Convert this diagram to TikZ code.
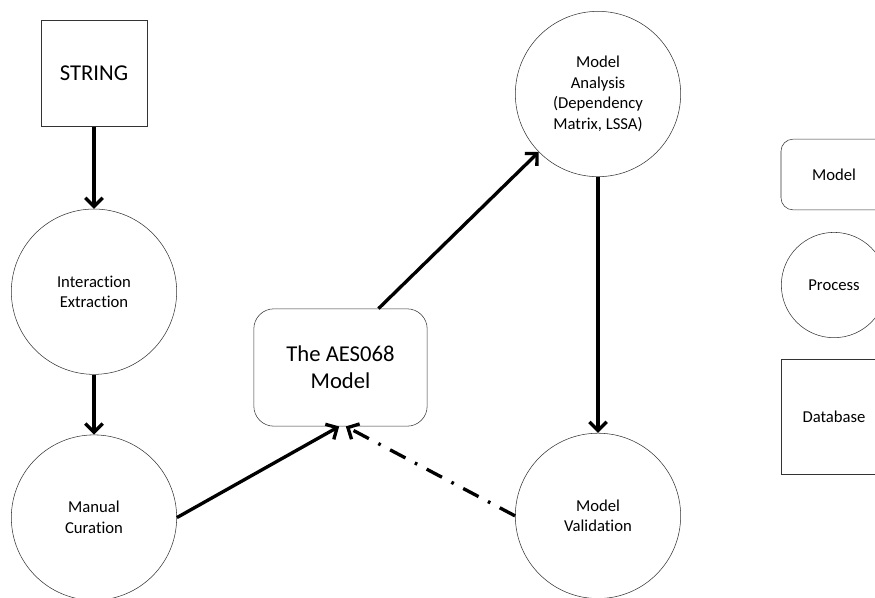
\documentclass[tikz,border=0pt]{standalone}
\usepackage{fontspec}
\setmainfont{Carlito}[Ligatures=NoCommon]
\usetikzlibrary{positioning,arrows.meta}

\begin{document}
\begin{tikzpicture}[x=0.75pt, y=-0.75pt,
  process/.style={draw=black!80, circle, minimum size=124pt, inner sep=0pt, align=center, font=\fontsize{12.5}{15.5}\selectfont},
  database/.style={draw=black!80, minimum width=79.5pt, minimum height=79.5pt, inner sep=0pt, align=center, font=\fontsize{17}{20.5}\selectfont},
  model/.style={draw=black!80, rounded corners=15pt, minimum width=130pt, minimum height=88pt, inner sep=0pt, align=center, font=\fontsize{17}{20.5}\selectfont},
  legend/.style={draw=black!80, inner sep=0pt, align=center, font=\fontsize{12.5}{15.5}\selectfont},
  flow/.style={-{Straight Barb[length=6.5pt,width=13pt]}, line width=2.5pt},
  feedback/.style={flow, dash pattern=on 13pt off 8pt on 2pt off 8pt}]
\path[use as bounding box, clip] (0,0) rectangle (875,597);
% main flow
\node[database] (string) at (94,73.5) {STRING};
\node[process, below=61.5pt of string] (extraction) {Interaction\\Extraction};
\node[process, below=45pt of extraction] (curation) {Manual\\Curation};
\node[model] (aes) at (340.5,367.5) {The AES068\\Model};
\node[process] (analysis) at (598,94) {Model\\Analysis\\(Dependency\\Matrix, LSSA)};
\node[process, below=192pt of analysis] (validation) {Model\\Validation};
\draw[flow] (string) -- (extraction);
\draw[flow] (extraction) -- (curation);
\draw[flow] (curation.east) -- ([xshift=-1pt]aes.south);
\draw[flow] ([xshift=28.5pt]aes.north) -- (analysis);
\draw[flow] (analysis) -- (validation);
\draw[feedback] (validation.west) -- ([xshift=4pt]aes.south);
% legend
\node[legend, rounded corners=9pt, minimum width=79.5pt, minimum height=53pt] (lgmodel) at (834,174.5) {Model};
\node[legend, circle, minimum size=79pt, below=16.5pt of lgmodel] (lgprocess) {Process};
\node[legend, minimum width=79.5pt, minimum height=86pt, below=15.75pt of lgprocess] (lgdatabase) {Database};
\end{tikzpicture}
\end{document}
